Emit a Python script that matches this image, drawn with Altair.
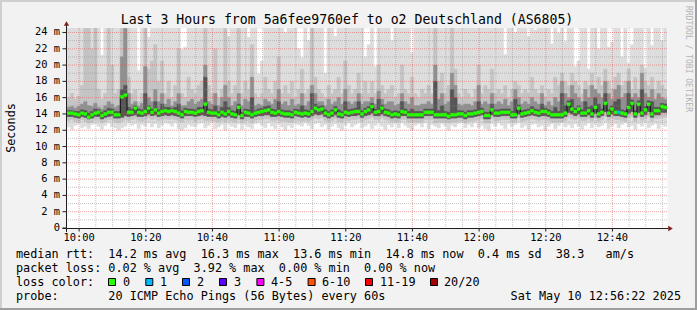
import altair as alt
import pandas as pd

FONT = "DejaVu Sans Mono"

# ---------------- chart values (milliseconds) ----------------
t_start = "2025-05-10 09:56:22"          # first 1-minute step
x_tick_labels = ["10:00", "10:20", "10:40", "11:00", "11:20", "11:40", "12:00", "12:20", "12:40"]
y_tick_values = [0, 2, 4, 6, 8, 10, 12, 14, 16, 18, 20, 22, 24]
y_top = 24.55

median = [
    14.1, 14.1, 14.0, 13.9, 14.1, 14.0, 13.6, 13.9, 14.1, 14.2, 13.8, 14.0, 14.2, 14.2, 13.9, 13.9, 16.1, 16.3, 14.2, 14.2,
    14.7, 14.2, 14.1, 14.3, 14.7, 14.2, 14.5, 14.1, 14.3, 14.4, 14.3, 14.4, 14.3, 14.1, 13.9, 14.3, 14.2, 14.2, 14.1, 14.3,
    14.4, 15.2, 14.2, 14.1, 14.1, 13.9, 14.2, 14.0, 14.3, 14.0, 13.9, 14.8, 13.8, 14.2, 14.1, 13.9, 14.1, 14.2, 14.3, 14.4,
    14.5, 14.2, 14.1, 14.3, 14.1, 14.0, 14.0, 13.9, 14.2, 14.1, 14.0, 14.1, 14.0, 14.3, 14.7, 14.5, 14.6, 14.1, 13.9, 14.1,
    14.5, 14.0, 13.9, 14.2, 14.1, 14.2, 14.3, 14.3, 14.0, 14.3, 14.5, 14.9, 14.2, 14.3, 14.7, 14.2, 14.1, 13.9, 14.0, 13.9,
    14.3, 14.2, 13.9, 13.9, 13.9, 13.9, 13.9, 14.2, 14.2, 14.2, 13.9, 13.9, 13.9, 13.9, 13.7, 13.9, 13.9, 14.0, 14.0, 13.8,
    14.0, 14.0, 14.1, 14.2, 14.3, 13.8, 13.8, 14.5, 14.1, 14.1, 14.2, 14.2, 14.2, 13.9, 13.9, 14.7, 14.0, 14.1, 14.2, 14.4,
    14.2, 14.1, 14.3, 14.3, 14.1, 13.9, 13.9, 13.9, 13.9, 14.1, 15.2, 14.6, 14.3, 14.6, 14.1, 14.1, 14.4, 14.0, 14.8, 14.0,
    14.2, 15.3, 14.1, 14.6, 14.2, 14.2, 14.1, 14.0, 14.8, 15.3, 14.0, 15.2, 14.1, 14.5, 15.2, 14.0, 14.4, 14.4, 14.9, 14.8,
]
ping_max = [
    26, 26, 26, 26, 26, 26, 26, 26, 26, 26, 21.2, 26, 26, 26, 26, 26, 26, 26, 26, 26,
    26, 19.3, 26, 26, 23.4, 26, 26, 26, 26, 26, 26, 26, 26, 26, 21.9, 22.2, 26, 26, 26, 26,
    26, 26, 26, 26, 26, 26, 26, 26, 23.5, 26, 26, 26, 26, 26, 23.4, 26, 26, 18.9, 20.5, 26,
    26, 26, 26, 26, 26, 24.0, 26, 26, 26, 22.0, 20.9, 26, 23.0, 26, 26, 26, 26, 19.0, 26, 26,
    23.5, 26, 26, 26, 26, 26, 26, 26, 26, 21.0, 22.5, 26, 19.8, 26, 26, 26, 26, 23.0, 26, 26,
    26, 26, 26, 21.5, 26, 26, 26, 26, 26, 26, 26, 26, 26, 26, 26, 26, 26, 26, 26, 26,
    26, 26, 26, 26, 26, 26, 26, 26, 26, 26, 26, 21.3, 26, 26, 24.0, 26, 26, 26, 23.5, 26,
    24.3, 26, 26, 26, 26, 22.6, 26, 23.9, 26, 22.9, 26, 26, 19.8, 20.5, 26, 26, 19.5, 26, 26, 22.0,
    26, 26, 22.2, 22.8, 26, 26, 21.0, 26, 20.2, 22.5, 26, 26, 26, 19.6, 26, 22.4, 26, 26, 23.0, 26,
]
upper_2 = [
    16.0, 16.5, 15.8, 16.2, 17.5, 24.5, 24.5, 22.0, 24.5, 17.0, 15.8, 16.5, 24.5, 20.0, 16.5, 17.0, 24.5, 24.5, 18.5, 16.5,
    17.0, 15.5, 16.5, 24.5, 19.5, 20.5, 22.5, 18.0, 20.5, 16.5, 18.0, 16.0, 17.5, 22.0, 16.5, 16.0, 18.5, 17.0, 16.5, 17.5,
    18.0, 24.5, 17.5, 16.5, 22.0, 16.0, 17.0, 24.5, 18.0, 16.5, 17.5, 24.5, 16.5, 18.0, 17.0, 22.5, 16.5, 16.0, 16.5, 18.5,
    17.0, 16.5, 18.0, 21.0, 16.5, 17.5, 16.5, 18.0, 16.0, 17.0, 19.5, 16.5, 17.0, 24.5, 18.5, 17.0, 16.5, 16.0, 17.5, 16.5,
    17.0, 18.5, 16.5, 20.5, 17.5, 16.5, 17.0, 19.0, 16.5, 18.0, 16.5, 18.0, 16.5, 20.0, 17.5, 16.5, 17.0, 17.5, 16.0, 16.5,
    20.0, 17.0, 16.5, 18.5, 16.5, 16.0, 17.0, 16.5, 17.5, 16.5, 24.5, 18.0, 19.0, 16.5, 17.5, 24.5, 19.5, 16.5, 16.0, 17.0,
    16.5, 16.0, 17.0, 20.0, 16.5, 17.5, 17.0, 19.5, 16.5, 17.0, 16.5, 17.5, 16.0, 17.0, 18.0, 17.5, 16.5, 17.0, 16.5, 18.5,
    17.0, 16.5, 17.5, 16.0, 17.0, 16.5, 18.5, 17.5, 19.0, 18.0, 17.5, 19.0, 18.0, 17.5, 16.5, 18.0, 17.5, 19.0, 17.0, 18.5,
    17.5, 19.5, 18.0, 17.0, 18.5, 19.0, 17.5, 18.0, 19.5, 17.0, 18.5, 17.0, 20.0, 18.0, 17.5, 18.5, 17.0, 18.0, 17.5, 17.0,
]
upper_3 = [
    14.8, 14.9, 14.7, 14.9, 15.2, 15.5, 15.0, 14.9, 15.3, 14.8, 14.6, 15.0, 15.5, 15.2, 14.8, 15.0, 21.0, 24.5, 16.5, 15.2,
    15.5, 14.9, 15.3, 19.8, 16.0, 15.5, 17.0, 15.5, 16.5, 15.2, 15.8, 15.0, 15.5, 16.5, 15.0, 15.0, 15.5, 15.8, 15.2, 15.5,
    15.8, 20.0, 15.5, 15.2, 16.5, 15.0, 16.0, 17.5, 16.0, 15.0, 15.5, 16.5, 15.0, 15.8, 15.5, 18.5, 15.0, 15.2, 15.0, 15.8,
    15.5, 15.2, 15.8, 17.0, 15.2, 15.5, 15.0, 15.8, 15.0, 15.2, 16.5, 15.0, 15.5, 17.5, 16.5, 15.5, 15.5, 15.0, 15.8, 15.2,
    15.5, 16.0, 15.2, 17.0, 15.5, 15.2, 15.5, 16.5, 15.2, 15.5, 15.5, 16.0, 15.2, 16.8, 15.8, 15.2, 15.5, 15.5, 15.0, 15.2,
    16.5, 15.5, 15.2, 16.0, 15.0, 15.0, 15.2, 15.2, 15.5, 15.2, 20.0, 15.8, 16.5, 15.2, 15.5, 19.0, 17.5, 15.2, 15.0, 15.2,
    15.2, 15.0, 15.5, 17.5, 15.2, 15.5, 15.2, 16.5, 15.2, 15.5, 15.2, 15.8, 15.0, 15.5, 17.0, 16.0, 15.2, 15.5, 15.2, 16.0,
    15.5, 15.2, 16.5, 15.0, 15.5, 15.0, 16.0, 15.5, 18.0, 16.5, 16.0, 17.5, 16.5, 16.0, 15.5, 17.0, 16.0, 17.5, 17.0, 16.5,
    16.0, 18.0, 16.5, 15.8, 17.0, 17.5, 16.0, 16.5, 18.0, 16.0, 16.5, 16.0, 19.0, 16.5, 16.0, 17.0, 15.8, 16.5, 16.0, 15.8,
]
upper_4 = [
    14.4, 14.4, 14.3, 14.3, 14.5, 14.4, 14.1, 14.3, 14.6, 14.5, 14.2, 14.4, 14.7, 14.6, 14.3, 14.3, 17.0, 17.5, 14.8, 14.6,
    15.0, 14.6, 14.5, 16.5, 15.0, 14.6, 15.5, 14.5, 15.2, 14.8, 14.8, 14.7, 14.8, 15.2, 14.4, 14.7, 14.6, 14.6, 14.5, 14.8,
    14.8, 18.5, 14.6, 14.5, 15.0, 14.3, 14.8, 15.5, 14.8, 14.4, 14.3, 15.2, 14.2, 14.6, 14.5, 16.0, 14.4, 14.6, 14.7, 14.9,
    15.0, 14.6, 14.5, 15.5, 14.5, 14.4, 14.4, 14.3, 14.6, 14.5, 15.0, 14.5, 14.4, 16.5, 15.2, 14.9, 15.0, 14.5, 14.3, 14.5,
    14.9, 14.5, 14.3, 15.5, 14.5, 14.6, 14.7, 15.5, 14.4, 14.7, 14.9, 15.3, 14.6, 15.8, 15.1, 14.6, 14.5, 14.3, 14.4, 14.3,
    15.5, 14.6, 14.3, 14.6, 14.3, 14.3, 14.3, 14.6, 14.6, 14.6, 18.0, 14.4, 15.0, 14.3, 14.2, 17.0, 16.0, 14.4, 14.4, 14.2,
    14.4, 14.4, 14.5, 15.5, 14.7, 14.2, 14.2, 15.2, 14.5, 14.5, 14.6, 14.6, 14.6, 14.3, 15.8, 15.1, 14.4, 14.5, 14.6, 14.9,
    14.6, 14.5, 15.2, 14.7, 14.5, 14.3, 14.8, 14.3, 16.5, 15.0, 15.6, 15.8, 14.7, 15.0, 14.5, 15.5, 14.8, 15.0, 16.0, 15.2,
    14.6, 16.5, 14.5, 15.0, 15.5, 15.8, 14.5, 14.4, 16.5, 15.7, 14.4, 15.6, 17.0, 14.9, 15.6, 15.5, 14.8, 14.8, 15.3, 15.2,
]
lower_3 = [
    13.7, 13.7, 13.6, 13.5, 13.7, 13.6, 13.4, 13.5, 13.7, 13.7, 13.4, 13.6, 13.7, 13.8, 13.5, 13.5, 13.6, 13.8, 13.7, 13.8,
    13.9, 13.7, 13.7, 13.8, 14.0, 13.8, 13.9, 13.7, 13.8, 13.9, 13.8, 13.9, 13.8, 13.7, 13.5, 13.8, 13.8, 13.8, 13.7, 13.8,
    13.9, 13.8, 13.7, 13.7, 13.7, 13.5, 13.7, 13.6, 13.8, 13.6, 13.5, 13.9, 13.4, 13.7, 13.7, 13.5, 13.7, 13.8, 13.8, 13.9,
    13.9, 13.7, 13.7, 13.8, 13.7, 13.6, 13.6, 13.5, 13.8, 13.7, 13.6, 13.7, 13.6, 13.8, 14.0, 13.9, 14.0, 13.7, 13.5, 13.7,
    13.9, 13.6, 13.5, 13.8, 13.7, 13.8, 13.8, 13.9, 13.6, 13.8, 13.9, 14.1, 13.8, 13.8, 14.0, 13.8, 13.7, 13.5, 13.6, 13.5,
    13.8, 13.8, 13.5, 13.5, 13.5, 13.5, 13.5, 13.8, 13.8, 13.8, 13.5, 13.5, 13.5, 13.5, 13.4, 13.5, 13.5, 13.6, 13.6, 13.4,
    13.6, 13.6, 13.7, 13.8, 13.9, 13.4, 13.4, 13.9, 13.7, 13.7, 13.8, 13.8, 13.8, 13.5, 13.5, 14.0, 13.6, 13.7, 13.8, 13.9,
    13.8, 13.7, 13.8, 13.8, 13.7, 13.5, 13.5, 13.5, 13.5, 13.7, 14.2, 14.0, 13.8, 14.0, 13.7, 13.7, 13.9, 13.6, 14.1, 13.6,
    13.8, 14.3, 13.7, 14.0, 13.8, 13.8, 13.7, 13.6, 14.1, 14.3, 13.6, 14.2, 13.7, 13.9, 14.3, 13.6, 13.9, 13.9, 14.2, 14.2,
]
lower_2 = [
    13.2, 13.3, 13.1, 13.0, 13.3, 13.1, 12.9, 13.0, 13.3, 13.2, 12.9, 13.1, 13.3, 13.3, 13.0, 12.9, 13.1, 13.3, 13.2, 13.3,
    13.4, 13.2, 13.1, 13.3, 13.5, 13.3, 13.4, 13.2, 13.3, 13.4, 13.3, 13.4, 13.3, 13.2, 13.0, 13.3, 13.2, 13.3, 13.1, 13.3,
    13.4, 13.2, 13.2, 13.2, 13.1, 13.0, 13.2, 13.0, 13.3, 13.1, 13.0, 13.3, 12.9, 13.2, 13.2, 12.9, 13.2, 13.3, 13.3, 13.4,
    13.4, 13.2, 13.2, 13.3, 13.1, 13.1, 13.0, 13.0, 13.3, 13.2, 13.1, 13.2, 13.1, 13.3, 13.5, 13.4, 13.5, 13.2, 13.0, 13.2,
    13.4, 13.1, 13.0, 13.3, 13.2, 13.3, 13.3, 13.4, 13.1, 13.3, 13.4, 13.6, 13.3, 13.3, 13.5, 13.3, 13.2, 13.0, 13.1, 13.0,
    13.3, 13.3, 13.0, 13.0, 13.0, 13.0, 13.0, 13.3, 13.3, 13.3, 12.9, 13.0, 13.0, 13.0, 12.9, 13.0, 13.0, 13.1, 13.1, 12.9,
    13.1, 13.1, 13.2, 13.3, 13.4, 12.9, 12.9, 13.4, 13.2, 13.2, 13.3, 13.3, 13.3, 13.0, 13.0, 13.5, 13.1, 13.2, 13.3, 13.4,
    13.3, 13.2, 13.3, 13.3, 13.2, 13.0, 13.0, 13.0, 13.0, 13.2, 13.6, 13.4, 13.3, 13.5, 13.2, 13.2, 13.4, 13.1, 13.5, 13.1,
    13.3, 13.7, 13.2, 13.5, 13.3, 13.3, 13.2, 13.1, 13.5, 13.7, 13.1, 13.6, 13.2, 13.4, 13.7, 13.1, 13.4, 13.4, 13.6, 13.6,
]
ping_min = [
    12.4, 12.1, 12.6, 12.8, 12.3, 12.5, 12.2, 12.7, 12.8, 12.5, 12.1, 12.6, 12.9, 12.4, 12.3, 12.0, 12.3, 12.5, 12.9, 12.6,
    12.8, 12.2, 12.7, 12.5, 12.9, 12.4, 12.8, 12.3, 12.6, 12.9, 12.8, 12.5, 12.9, 12.2, 12.0, 12.3, 12.7, 12.5, 12.4, 12.8,
    12.9, 12.3, 12.6, 12.9, 12.2, 12.4, 12.7, 12.0, 12.8, 12.5, 12.3, 12.8, 12.1, 12.7, 12.4, 12.2, 12.8, 12.9, 12.6, 12.3,
    12.9, 12.5, 12.2, 12.8, 12.4, 12.0, 12.6, 12.3, 12.8, 12.7, 12.5, 12.9, 12.6, 12.2, 12.8, 12.9, 12.4, 12.7, 12.1, 12.5,
    12.8, 12.3, 12.0, 12.6, 12.9, 12.4, 12.7, 12.9, 12.3, 12.5, 12.8, 12.2, 12.6, 12.9, 12.5, 12.1, 12.7, 12.4, 12.8, 12.3,
    12.9, 12.6, 12.3, 12.0, 12.6, 12.8, 12.4, 12.9, 12.2, 12.7, 12.5, 12.3, 12.8, 12.5, 12.0, 12.6, 12.4, 12.8, 12.9, 12.3,
    12.7, 12.4, 12.9, 12.3, 12.6, 12.2, 12.0, 12.8, 12.5, 12.9, 12.6, 12.2, 12.8, 12.4, 12.7, 12.9, 12.3, 12.6, 12.1, 12.7,
    12.8, 12.4, 12.6, 12.0, 12.5, 12.8, 12.2, 12.6, 12.9, 12.4, 12.7, 12.3, 12.8, 12.5, 12.1, 12.6, 12.9, 12.3, 12.7, 12.4,
    12.6, 12.9, 12.2, 12.5, 12.8, 12.3, 12.7, 12.9, 12.4, 12.6, 12.1, 12.8, 12.5, 12.9, 12.3, 12.6, 12.8, 12.2, 12.7, 12.5,
]
# lost pings (of 20) per step
lost_pings = [0] * 165 + [1] + [0] * 14

loss_labels = ["0", "1", "2", "3", "4-5", "6-10", "11-19", "20/20"]
loss_colors = ["#26ff00", "#00b8ff", "#0059ff", "#5e00ff", "#ff00ff", "#ff5500", "#ff0000", "#a10000"]
loss_upper = [0, 1, 2, 3, 5, 10, 19, 20]

smoke_shades = ["#dddddd", "#c4c4c4", "#909090", "#555555"]

rtt_row = ["median rtt:", "14.2 ms avg", "16.3 ms max", "13.6 ms min", "14.8 ms now", "0.4 ms sd", "38.3", "am/s"]
loss_row = ["packet loss:", "0.02 % avg", "3.92 % max", "0.00 % min", "0.00 % now"]
probe_row = ["probe:", "20 ICMP Echo Pings (56 Bytes) every 60s", "Sat May 10 12:56:22 2025"]
title_text = "Last 3 Hours from 5a6fee9760ef to o2 Deutschland (AS6805)"

# ---------------- layout (pixels) ----------------
OX, OY = 67, 28          # plot origin inside the 697x310 canvas
W, H = 600, 200
LEG_SIZE = 11.8
ADV = 0.602 * LEG_SIZE   # monospace advance


def ms(ts):
    return int(pd.Timestamp(ts, tz="UTC").value // 1_000_000)


start_ms = ms(t_start)
n = len(median)
T0 = [start_ms + i * 60000 for i in range(n)]
T1 = [t + 60000 for t in T0]
end_ms = T1[-1]
day = t_start.split(" ")[0]
major_ms = [ms(day + " " + lab) for lab in x_tick_labels]
minor_ms = [major_ms[0] + k * 300000 for k in range(36) if k % 4 != 0]

xscale = alt.Scale(type="utc", domain=[start_ms, end_ms])
yscale = alt.Scale(domain=[0, y_top], nice=False, zero=False)


def X(field):
    return alt.X(field, scale=xscale, axis=None)


def Y(field):
    return alt.Y(field, scale=yscale, axis=None)


# smoke table
bands = [(ping_min, ping_max), (lower_2, upper_2), (lower_3, upper_3), (lower_3, upper_4)]
rows = []
for (lo, hi), shade in zip(bands, smoke_shades):
    for i in range(n):
        rows.append({"t0": T0[i], "t1": T1[i], "lo": lo[i], "hi": hi[i], "c": shade})
smoke_df = pd.DataFrame(rows)


def loss_color(k):
    for up, col in zip(loss_upper, loss_colors):
        if k <= up:
            return col
    return loss_colors[-1]


med_df = pd.DataFrame({"t0": T0, "t1": T1, "md": median, "c": [loss_color(k) for k in lost_pings]})

smoke = alt.Chart(smoke_df).mark_rect(clip=True, strokeWidth=0.6).encode(
    x=X("t0:T"), x2="t1:T", y=Y("lo:Q"), y2="hi:Q",
    fill=alt.Fill("c:N", scale=None), stroke=alt.Stroke("c:N", scale=None),
)

GRID_C, GRID_O = "#8f8f8f", 0.5
MGRID_C, MGRID_O = "#de4f4f", 0.5
grid_minor_v = alt.Chart(pd.DataFrame({"t": minor_ms})).mark_rule(
    stroke=GRID_C, strokeOpacity=GRID_O, strokeDash=[1, 1], strokeWidth=1).encode(x=X("t:T"))
grid_major_v = alt.Chart(pd.DataFrame({"t": major_ms})).mark_rule(
    stroke=MGRID_C, strokeOpacity=MGRID_O, strokeDash=[1, 1], strokeWidth=1).encode(x=X("t:T"))
grid_minor_h = alt.Chart(pd.DataFrame({"v": [v + 1 for v in y_tick_values[:-1]]})).mark_rule(
    stroke=GRID_C, strokeOpacity=GRID_O, strokeDash=[1, 1], strokeWidth=1).encode(y=Y("v:Q"))
grid_major_h = alt.Chart(pd.DataFrame({"v": y_tick_values[1:]})).mark_rule(
    stroke=MGRID_C, strokeOpacity=MGRID_O, strokeDash=[1, 1], strokeWidth=1).encode(y=Y("v:Q"))

med_line = alt.Chart(med_df).mark_line(interpolate="step-after", color="#111111", strokeWidth=1).encode(
    x=X("t0:T"), y=Y("md:Q"))
med_blocks = alt.Chart(med_df).transform_calculate(
    lo="datum.md - 0.18", hi="datum.md + 0.18").mark_rect(strokeWidth=0.4).encode(
    x=X("t0:T"), x2="t1:T", y=Y("lo:Q"), y2="hi:Q",
    fill=alt.Fill("c:N", scale=None), stroke=alt.Stroke("c:N", scale=None),
)

# axis tick labels and ticks (drawn as marks on the shared scales)
xlab_df = pd.DataFrame({"t": major_ms, "lab": x_tick_labels})
ylab_df = pd.DataFrame({"v": y_tick_values,
                        "lab": [("0\u00a0\u00a0" if v == 0 else f"{v} m") for v in y_tick_values]})
x_labels = alt.Chart(xlab_df).mark_text(font=FONT, fontSize=10.4, align="center", baseline="alphabetic",
                                        color="#000000").encode(
    x=X("t:T"), y=alt.value(240.7 - OY), text="lab:N")
x_ticks = alt.Chart(xlab_df).mark_rule(color="#1f1f1f", strokeWidth=1).encode(
    x=X("t:T"), y=alt.value(H + 0.5), y2=alt.value(H + 3.5))
y_labels = alt.Chart(ylab_df).mark_text(font=FONT, fontSize=10.4, align="right", baseline="middle",
                                        color="#000000").encode(
    y=Y("v:Q"), x=alt.value(60 - OX), text="lab:N")
y_ticks = alt.Chart(ylab_df).mark_rule(color="#1f1f1f", strokeWidth=1).encode(
    y=Y("v:Q"), x=alt.value(62.5 - OX), x2=alt.value(66.5 - OX))

base = alt.Chart(pd.DataFrame({"k": [0]}))


def txt(s, xa, ya, size=LEG_SIZE, align="left", baseline="alphabetic", angle=0, color="#000000"):
    return base.mark_text(text=s, font=FONT, fontSize=size, align=align, baseline=baseline,
                          angle=angle, color=color).encode(x=alt.value(xa - OX), y=alt.value(ya - OY))


def rect(x1, y1, x2, y2, fill, stroke=None):
    kw = {"fill": fill}
    if stroke:
        kw.update({"stroke": stroke, "strokeWidth": 1})
    else:
        kw.update({"strokeWidth": 0})
    return base.mark_rect(**kw).encode(x=alt.value(x1 - OX), x2=alt.value(x2 - OX),
                                         y=alt.value(y1 - OY), y2=alt.value(y2 - OY))


def line(x1, y1, x2, y2, color):
    return base.mark_rule(color=color, strokeWidth=1).encode(
        x=alt.value(x1 - OX), x2=alt.value(x2 - OX), y=alt.value(y1 - OY), y2=alt.value(y2 - OY))


layers = [smoke, grid_minor_v, grid_minor_h, grid_major_v, grid_major_h, med_line, med_blocks,
          x_labels, x_ticks, y_labels, y_ticks]

# axis lines and arrows
layers.append(line(62.5, 228.5, 668, 228.5, "#1f1f1f"))
layers.append(line(66.5, 25, 66.5, 232, "#1f1f1f"))
layers.append(base.mark_point(shape="triangle-up", filled=True, color="#801f1f", size=28, opacity=1).encode(
    x=alt.value(66.5 - OX), y=alt.value(23.5 - OY)))
layers.append(base.mark_point(shape="triangle-right", filled=True, color="#801f1f", size=28, opacity=1).encode(
    x=alt.value(670.5 - OX), y=alt.value(228.5 - OY)))

# frame
layers.append(rect(0, 0, 697, 2, "#cfcfcf"))
layers.append(rect(0, 0, 2, 310, "#cfcfcf"))
layers.append(rect(695, 0, 697, 310, "#9e9e9e"))
layers.append(rect(0, 308, 697, 310, "#9e9e9e"))

# titles
layers.append(txt(title_text, 347, 24, size=13.2, align="center"))
layers.append(txt("Seconds", 11, 128, align="center", baseline="middle", angle=270))
layers.append(txt("RRDTOOL / TOBI OETIKER", 688, 59, size=8, align="center", baseline="middle", angle=90,
                  color="#b4b4b4"))

# legend rows (monospace columns)
L0 = 16
C1 = L0 + 13 * ADV
rtt_x = [L0, C1, C1 + 13 * ADV, C1 + 26 * ADV, C1 + 39 * ADV, C1 + 52 * ADV, C1 + 63 * ADV, C1 + 70 * ADV]
for s, xa in zip(rtt_row, rtt_x):
    layers.append(txt(s, xa, 257.5))
loss_x = [L0, C1, C1 + 12 * ADV, C1 + 24 * ADV, C1 + 36 * ADV]
for s, xa in zip(loss_row, loss_x):
    layers.append(txt(s, xa, 271.5))
layers.append(txt("loss color:", L0, 285.5))
box_x = [108, 145.3, 182, 219, 256.4, 307.6, 365, 430]
lab_x = [123, 160, 197, 234, 271, 322, 380, 444]
for bx, lx, lab, col in zip(box_x, lab_x, loss_labels, loss_colors):
    layers.append(rect(bx + 0.5, 278.5, bx + 7.5, 285.5, col, stroke="#000000"))
    layers.append(txt(lab, lx, 285.5))
layers.append(txt(probe_row[0], L0, 299.5))
layers.append(txt(probe_row[1], C1, 299.5))
layers.append(txt(probe_row[2], 681, 299.5, align="right"))

chart = alt.layer(*layers).properties(
    width=W, height=H,
    autosize=alt.AutoSizeParams(type="none"),
    padding={"left": OX, "top": OY, "right": 697 - OX - W, "bottom": 310 - OY - H},
).configure(background="#f2f2f2").configure_view(fill="#ffffff", strokeOpacity=0)

chart.save("out.html", embed_options={"renderer": "svg", "actions": False})
